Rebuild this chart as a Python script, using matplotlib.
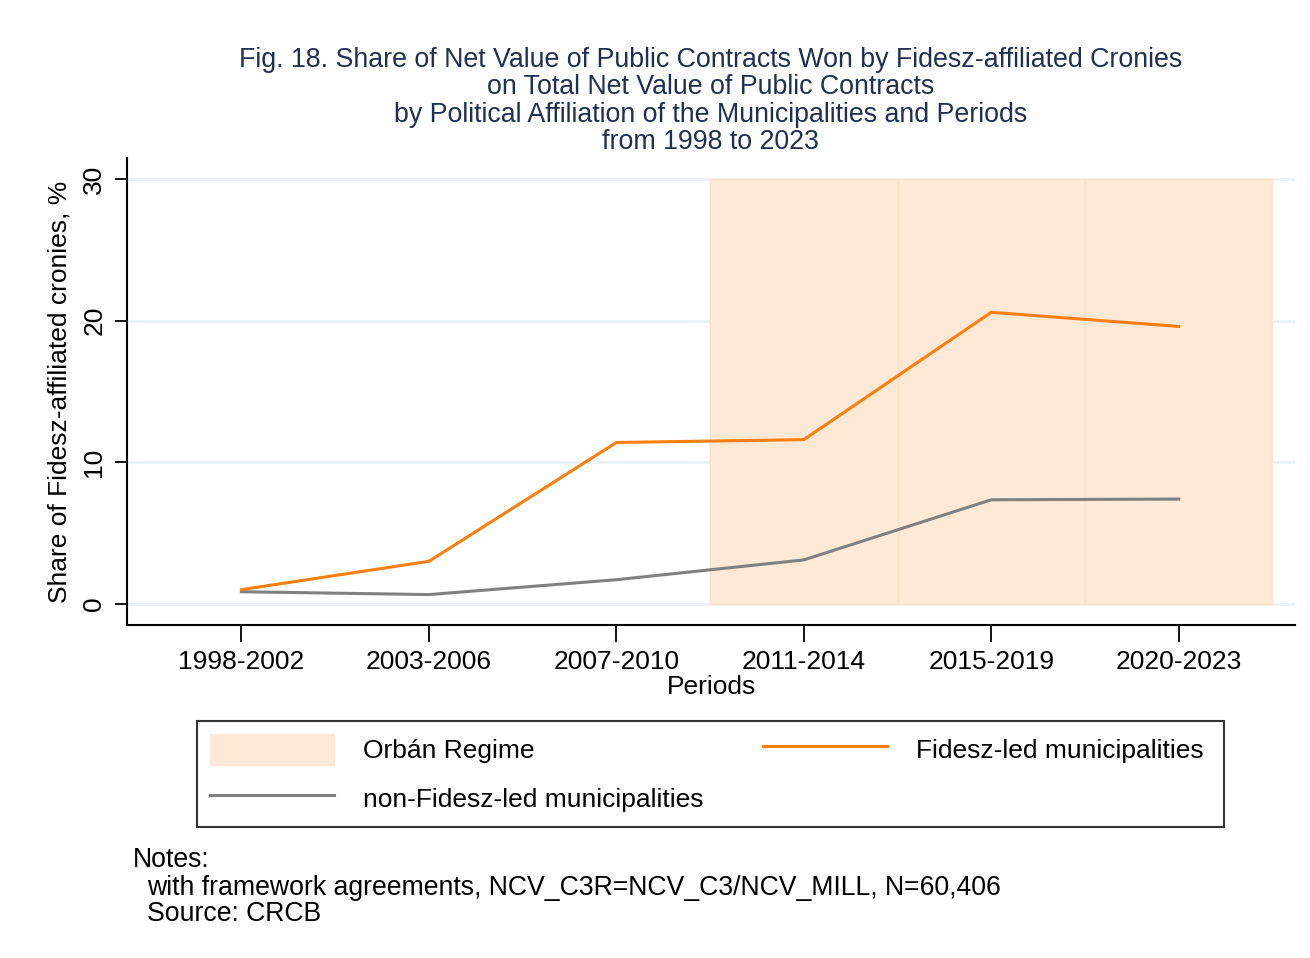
import numpy as np
import matplotlib
matplotlib.use("Agg")
import matplotlib.pyplot as plt
from matplotlib.patches import Patch
from matplotlib.lines import Line2D

plt.rcParams['font.family'] = ['Liberation Sans', 'DejaVu Sans']

periods = ["1998-2002", "2003-2006", "2007-2010", "2011-2014", "2015-2019", "2020-2023"]
fidesz = [1.0, 3.0, 11.4, 11.6, 20.6, 19.6]
non_fidesz = [0.85, 0.65, 1.7, 3.1, 7.35, 7.4]
orban_periods = [4, 5, 6]   # 2011-2014 onward

title = ("Fig. 18. Share of Net Value of Public Contracts Won by Fidesz-affiliated Cronies\n"
         "on Total Net Value of Public Contracts\n"
         "by Political Affiliation of the Municipalities and Periods\n"
         "from 1998 to 2023")

c_orange = "#ff7f0e"
c_gray = "#808080"
c_shade = "#fde9d5"

fig = plt.figure(figsize=(13.1, 9.58), dpi=100)
ax = fig.add_axes([0.097, 0.3476, 0.8915, 0.4874])

x = np.arange(1, len(periods) + 1)

# shaded Orban era, one bar per period
ax.bar(orban_periods, [30] * len(orban_periods), width=1.0, color=c_shade,
       edgecolor="#fbe3cc", linewidth=1, zorder=1)

for yv in [0, 10, 20, 30]:
    ax.axhline(yv, color="#eaf2f3", lw=2, zorder=0)

ax.plot(x, non_fidesz, color=c_gray, lw=2.2, zorder=3)
ax.plot(x, fidesz, color=c_orange, lw=2.2, zorder=3)

ax.set_xlim(0.39, 6.62)
ax.set_ylim(-1.5, 31.5)
ax.set_xticks(x)
ax.set_xticklabels(periods, fontsize=19)
ax.set_yticks([0, 10, 20, 30])
ax.set_yticklabels(["0", "10", "20", "30"], fontsize=19, rotation=90, va="center")
ax.tick_params(axis="x", length=12, width=1.3, pad=6)
ax.tick_params(axis="y", length=9, width=1.3, pad=6)
ax.spines["top"].set_visible(False)
ax.spines["right"].set_visible(False)
ax.spines["left"].set_linewidth(1.5)
ax.spines["bottom"].set_linewidth(1.5)
ax.set_xlabel("Periods", fontsize=19, labelpad=1)
ax.set_ylabel("Share of Fidesz-affiliated cronies, %", fontsize=19, labelpad=8)

fig.text(0.5427, 0.951, title, ha="center", va="top", fontsize=19.3,
         color="#1f3050", linespacing=1.07)

handles = [Patch(facecolor=c_shade, edgecolor=c_shade),
           Line2D([], [], color=c_gray, lw=2.2),
           Line2D([], [], color=c_orange, lw=2.2)]
labels = ["Orbán Regime", "non-Fidesz-led municipalities", "Fidesz-led municipalities "]
leg = fig.legend(handles, labels, ncol=2, loc="upper left",
                 bbox_to_anchor=(0.1505, 0.2474),
                 fontsize=19, frameon=True, fancybox=False, edgecolor="black",
                 handlelength=4.7, handleheight=1.4, handletextpad=1.1,
                 borderaxespad=0, columnspacing=2.23, labelspacing=0.71, borderpad=0.5)
leg.get_frame().set_linewidth(1.5)

fig.text(0.1015, 0.102, "Notes:", fontsize=19.2, va="center")
fig.text(0.112, 0.073, "with framework agreements, NCV_C3R=NCV_C3/NCV_MILL, N=60,406",
         fontsize=19.2, va="center")
fig.text(0.112, 0.046, "Source: CRCB", fontsize=19.2, va="center")

fig.savefig("out.png", dpi=100, facecolor="white")
